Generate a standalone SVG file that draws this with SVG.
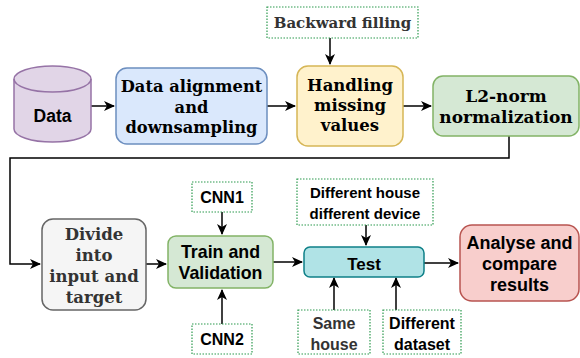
<svg xmlns="http://www.w3.org/2000/svg" width="580" height="358" viewBox="0 0 580 358">
<style>
.serif{font-family:"DejaVu Serif","Liberation Serif",serif;font-weight:bold;text-anchor:middle}
.sans{font-family:"Liberation Sans",Arial,sans-serif;font-weight:bold;text-anchor:middle}
.dot{fill:#ffffff;stroke:#2d9a4f;stroke-width:1.2;stroke-dasharray:1.5 1.5}
.ln{fill:none;stroke:#000;stroke-width:1.5}
</style>
<defs>
<marker id="ah" markerWidth="12" markerHeight="12" refX="10" refY="5" orient="auto" markerUnits="userSpaceOnUse" viewBox="0 0 12 10">
<path d="M0,0 L11,5 L0,10 L3,5 Z" fill="#000"/>
</marker>
</defs>
<g id="connectors">
<line class="ln" x1="91" y1="106" x2="114" y2="106" marker-end="url(#ah)"/>
<line class="ln" x1="267" y1="106" x2="295" y2="106" marker-end="url(#ah)"/>
<line class="ln" x1="403" y1="106" x2="431" y2="106" marker-end="url(#ah)"/>
<line class="ln" x1="330" y1="38" x2="330" y2="64" marker-end="url(#ah)"/>
<polyline class="ln" points="509,136 509,158 10,158 10,264 40,264" marker-end="url(#ah)"/>
<line class="ln" x1="146" y1="264" x2="166" y2="264" marker-end="url(#ah)"/>
<line class="ln" x1="222" y1="212" x2="222" y2="234" marker-end="url(#ah)"/>
<line class="ln" x1="222" y1="324" x2="222" y2="290" marker-end="url(#ah)"/>
<line class="ln" x1="273" y1="262" x2="302" y2="262" marker-end="url(#ah)"/>
<line class="ln" x1="366" y1="225" x2="366" y2="245" marker-end="url(#ah)"/>
<line class="ln" x1="334" y1="310" x2="334" y2="278" marker-end="url(#ah)"/>
<line class="ln" x1="396" y1="310" x2="396" y2="278" marker-end="url(#ah)"/>
<line class="ln" x1="424" y1="263" x2="458" y2="263" marker-end="url(#ah)"/>
</g>
<g id="data">
<path d="M14,79 L14,129 A38.5,13 0 0 0 91,129 L91,79 A38.5,13 0 0 0 14,79 Z" fill="#e1d5e7" stroke="#9673a6" stroke-width="1.5"/>
<path d="M14,79 A38.5,13 0 0 0 91,79" fill="none" stroke="#9673a6" stroke-width="1.5"/>
<text class="sans" x="52.5" y="122" font-size="17.5">Data</text>
</g>
<g id="align">
<rect x="116" y="68" width="151" height="76" rx="11" fill="#dae8fc" stroke="#6c8ebf" stroke-width="1.5"/>
<text class="serif" x="191.5" y="92" font-size="16.3"><tspan x="191.5">Data alignment</tspan><tspan x="191.5" dy="20.5">and</tspan><tspan x="191.5" dy="20.5">downsampling</tspan></text>
</g>
<g id="backward">
<rect class="dot" x="267" y="7" width="151" height="31"/>
<text class="serif" x="342.5" y="28" font-size="15" fill="#333333">Backward filling</text>
</g>
<g id="handling">
<rect x="297" y="66" width="106" height="80" rx="11" fill="#fff2cc" stroke="#d6b656" stroke-width="1.5"/>
<text class="serif" x="350" y="91" font-size="16.5"><tspan x="350">Handling</tspan><tspan x="350" dy="20">missing</tspan><tspan x="350" dy="20">values</tspan></text>
</g>
<g id="l2norm">
<rect x="433" y="76" width="146" height="60" rx="10" fill="#d5e8d4" stroke="#82b366" stroke-width="1.5"/>
<text class="serif" x="506" y="102" font-size="17"><tspan x="506">L2-norm</tspan><tspan x="506" dy="21">normalization</tspan></text>
</g>
<g id="divide">
<rect x="42" y="219" width="104" height="91" rx="11" fill="#f5f5f5" stroke="#666666" stroke-width="1.5"/>
<text class="serif" x="94" y="240" font-size="16.5" fill="#333333"><tspan x="94">Divide</tspan><tspan x="94" dy="21">into</tspan><tspan x="94" dy="21">input and</tspan><tspan x="94" dy="21">target</tspan></text>
</g>
<g id="train">
<rect x="168" y="236" width="105" height="52" rx="8" fill="#d5e8d4" stroke="#82b366" stroke-width="1.5"/>
<text class="sans" x="220.5" y="258" font-size="17.8"><tspan x="220.5">Train and</tspan><tspan x="220.5" dy="21">Validation</tspan></text>
</g>
<g id="cnn1">
<rect class="dot" x="192" y="182" width="60" height="30"/>
<text class="sans" x="222" y="203" font-size="16">CNN1</text>
</g>
<g id="cnn2">
<rect class="dot" x="192" y="324" width="60" height="30"/>
<text class="sans" x="222" y="345" font-size="16">CNN2</text>
</g>
<g id="test">
<rect x="304" y="247" width="120" height="30" rx="6" fill="#b0e3e6" stroke="#0e8088" stroke-width="1.5"/>
<text class="sans" x="364" y="270" font-size="17">Test</text>
</g>
<g id="diffhouse">
<rect class="dot" x="297" y="179" width="136" height="46"/>
<text class="sans" x="365" y="198" font-size="15"><tspan x="365">Different house</tspan><tspan x="365" dy="21">different device</tspan></text>
</g>
<g id="samehouse">
<rect class="dot" x="298" y="310" width="72" height="44"/>
<text class="sans" x="334" y="329" font-size="16" fill="#333333"><tspan x="334">Same</tspan><tspan x="334" dy="21">house</tspan></text>
</g>
<g id="diffdataset">
<rect class="dot" x="383" y="310" width="78" height="44"/>
<text class="sans" x="422" y="329" font-size="16"><tspan x="422">Different</tspan><tspan x="422" dy="21">dataset</tspan></text>
</g>
<g id="analyse">
<rect x="460" y="225" width="119" height="76" rx="12" fill="#f8cecc" stroke="#b85450" stroke-width="1.5"/>
<text class="sans" x="519.5" y="249" font-size="18"><tspan x="519.5">Analyse and</tspan><tspan x="519.5" dy="21">compare</tspan><tspan x="519.5" dy="21">results</tspan></text>
</g>
</svg>
